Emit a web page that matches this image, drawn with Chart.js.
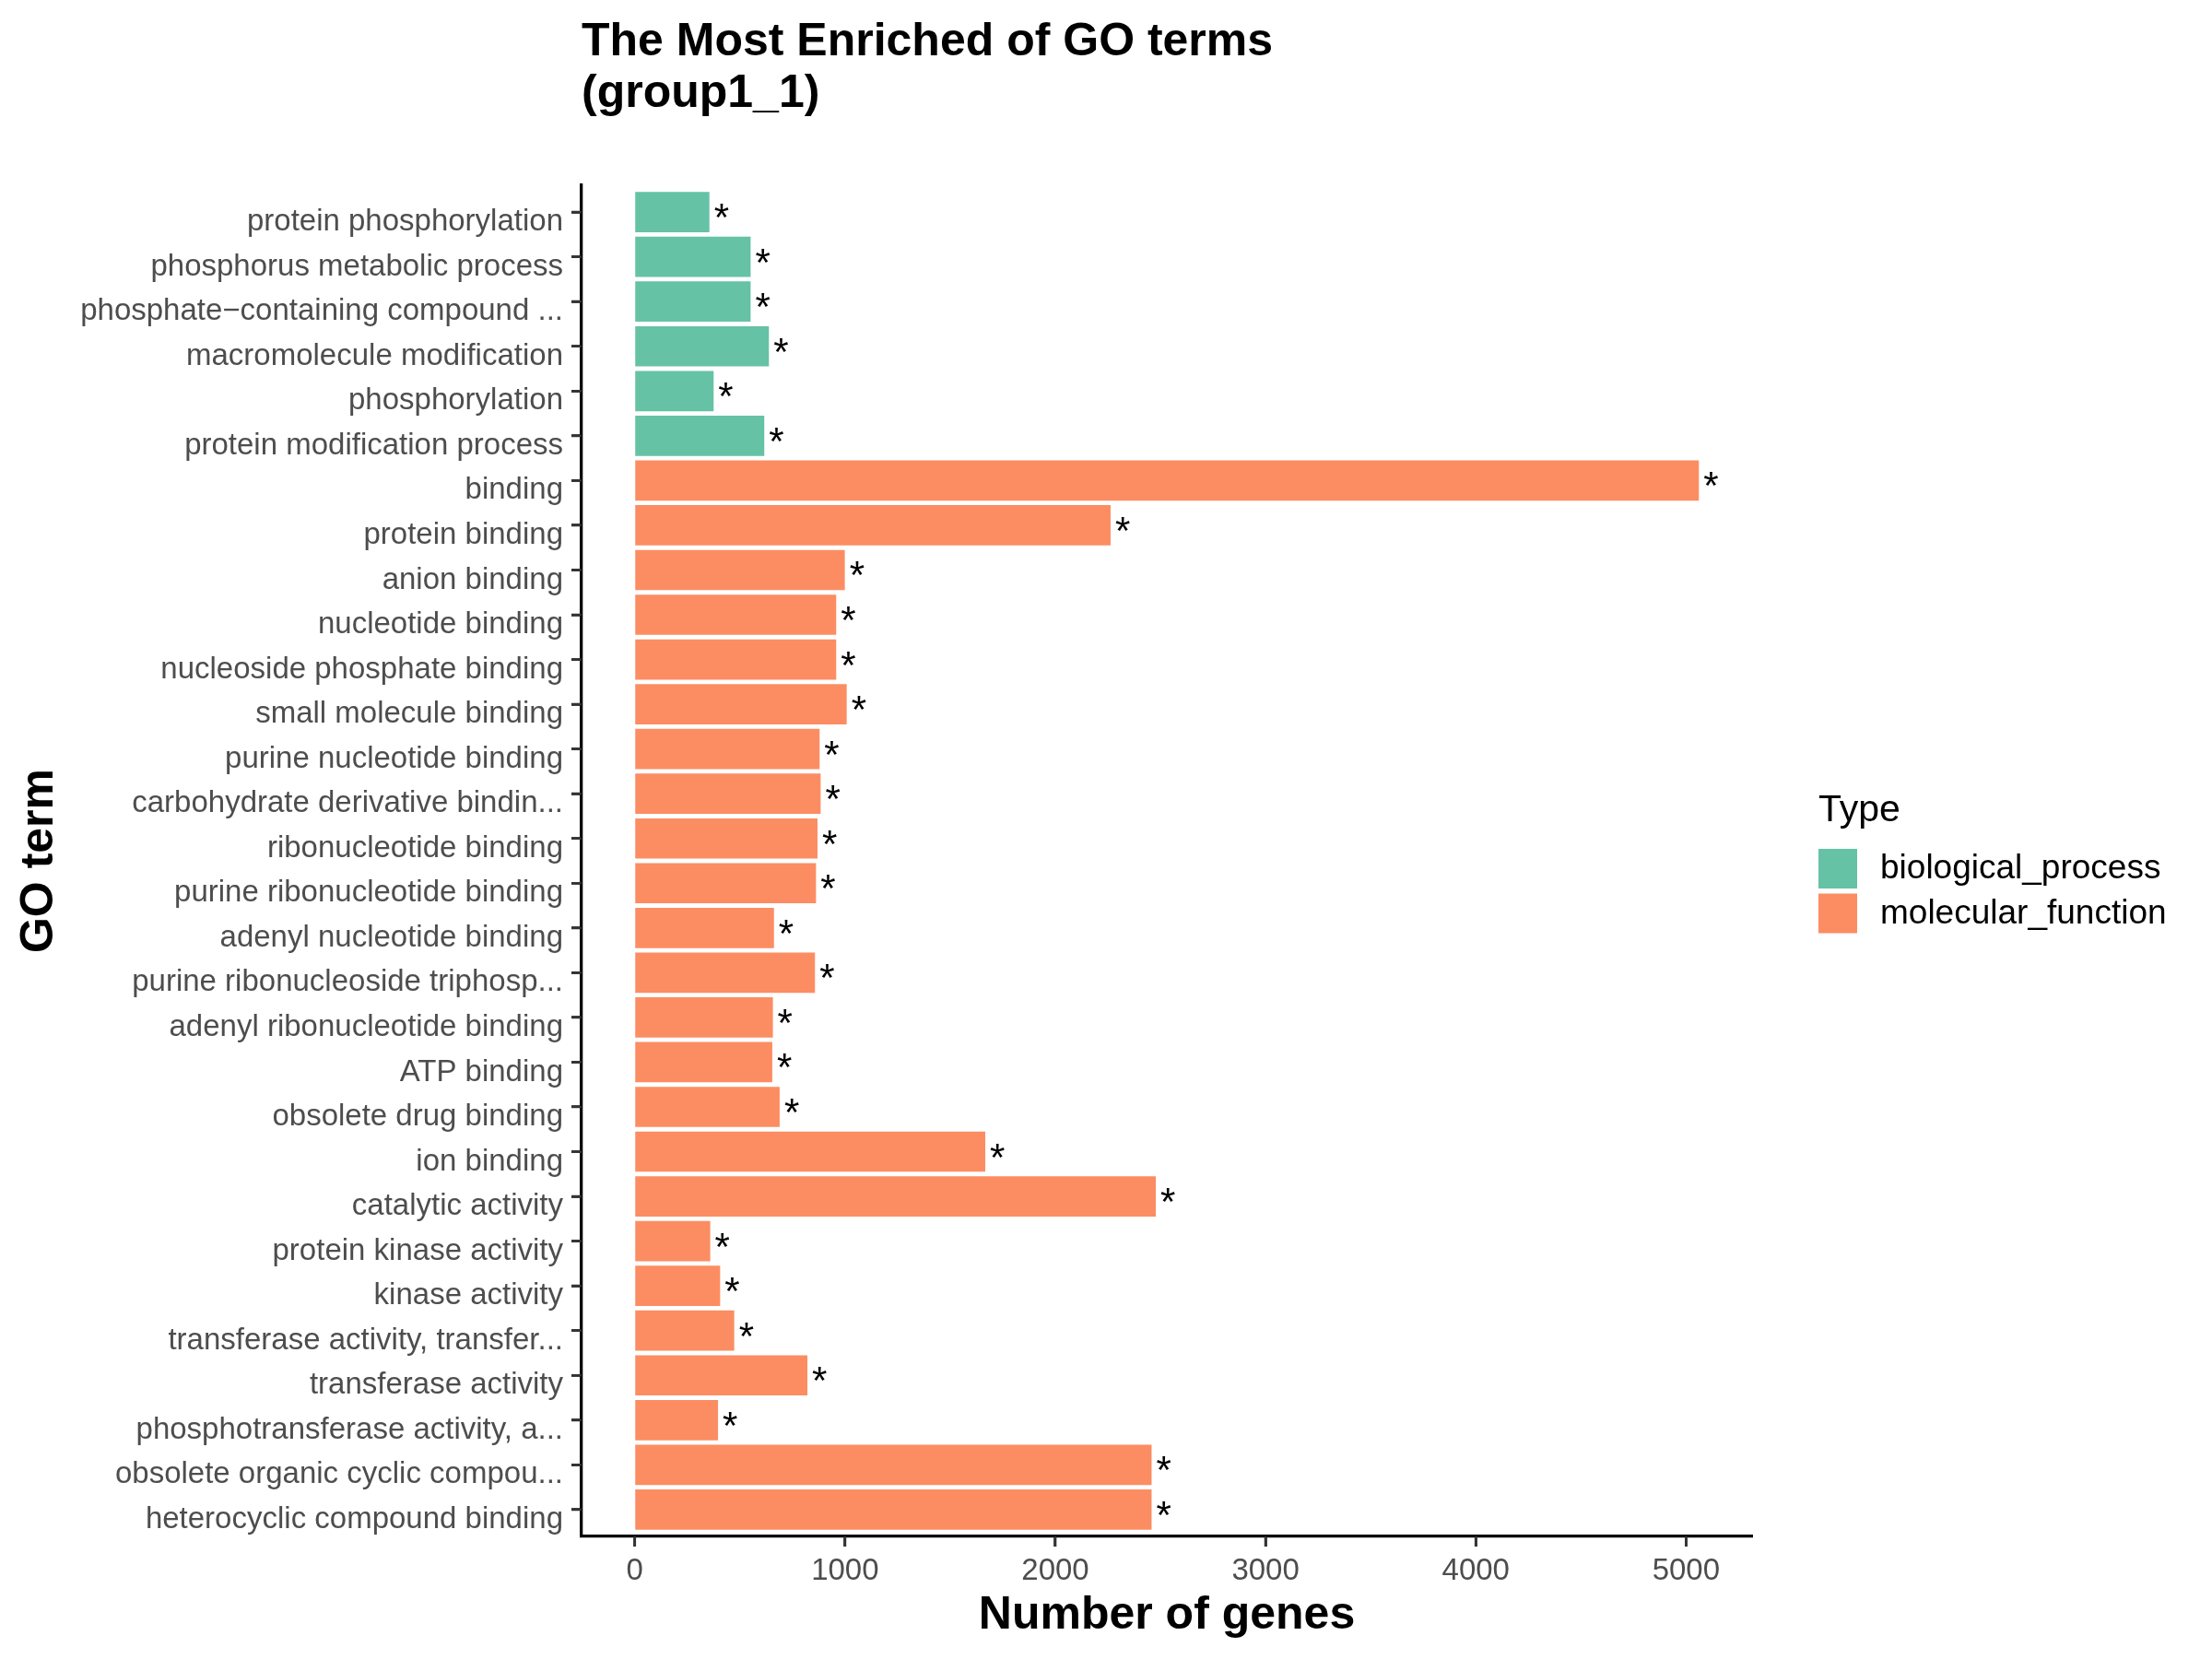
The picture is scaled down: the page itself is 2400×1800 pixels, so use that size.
<!DOCTYPE html>
<html>
<head>
<meta charset="utf-8">
<title>The Most Enriched of GO terms (group1_1)</title>
<script src="https://cdn.jsdelivr.net/npm/chart.js@4/dist/chart.umd.min.js"></script>
<style>
  body { margin: 0; background: #fff; }
  canvas { display: block; }
</style>
</head>
<body>
<canvas id="goChart" width="2400" height="1800"></canvas>
<script>
// GO terms, top to bottom as in the figure
const goTerms = [
    'protein phosphorylation',
    'phosphorus metabolic process',
    'phosphate\u2212containing compound ...',
    'macromolecule modification',
    'phosphorylation',
    'protein modification process',
    'binding',
    'protein binding',
    'anion binding',
    'nucleotide binding',
    'nucleoside phosphate binding',
    'small molecule binding',
    'purine nucleotide binding',
    'carbohydrate derivative bindin...',
    'ribonucleotide binding',
    'purine ribonucleotide binding',
    'adenyl nucleotide binding',
    'purine ribonucleoside triphosp...',
    'adenyl ribonucleotide binding',
    'ATP binding',
    'obsolete drug binding',
    'ion binding',
    'catalytic activity',
    'protein kinase activity',
    'kinase activity',
    'transferase activity, transfer...',
    'transferase activity',
    'phosphotransferase activity, a...',
    'obsolete organic cyclic compou...',
    'heterocyclic compound binding'
];

// Number of genes per term
const geneCounts = [355, 551, 551, 638, 375, 616, 5061, 2263, 999, 958, 958, 1008, 879, 884, 869,
    862, 662, 857, 657, 654, 689, 1667, 2478, 359, 406, 473, 821, 396, 2458, 2458];

const termTypes = [
    'biological_process', 'biological_process', 'biological_process',
    'biological_process', 'biological_process', 'biological_process',
    'molecular_function', 'molecular_function', 'molecular_function', 'molecular_function',
    'molecular_function', 'molecular_function', 'molecular_function', 'molecular_function',
    'molecular_function', 'molecular_function', 'molecular_function', 'molecular_function',
    'molecular_function', 'molecular_function', 'molecular_function', 'molecular_function',
    'molecular_function', 'molecular_function', 'molecular_function', 'molecular_function',
    'molecular_function', 'molecular_function', 'molecular_function', 'molecular_function'
];

// significance marks printed after each bar
const sigMarks = ['*', '*', '*', '*', '*', '*', '*', '*', '*', '*', '*', '*', '*', '*', '*',
    '*', '*', '*', '*', '*', '*', '*', '*', '*', '*', '*', '*', '*', '*', '*'];

const typeNames = ['biological_process', 'molecular_function'];
const typeColors = ['#66C2A5', '#FC8D62'];
const xTickValues = [0, 1000, 2000, 3000, 4000, 5000];

const FONT = '"Liberation Sans", Arial, Helvetica, sans-serif';
const TICK_LEN = 11;

// ggplot-like 5% expansion of the value axis
const maxCount = Math.max(...geneCounts);
const xPad = maxCount * 0.05;

const datasets = typeNames.map((t, k) => ({
    label: t,
    data: geneCounts.map((v, i) => termTypes[i] === t ? v : null),
    backgroundColor: typeColors[k],
    borderWidth: 0,
    barPercentage: 0.9,
    categoryPercentage: 1.0,
    grouped: false
}));

// title, legend, axis tick marks and the asterisks
const extrasPlugin = {
    id: 'extras',
    afterDatasetsDraw(chart) {
        const ctx = chart.ctx;
        ctx.save();
        ctx.fillStyle = '#000';
        ctx.textAlign = 'left';
        ctx.textBaseline = 'alphabetic';
        ctx.font = '42px ' + FONT;
        chart.data.datasets.forEach((ds, d) => {
            const meta = chart.getDatasetMeta(d);
            meta.data.forEach((bar, i) => {
                if (ds.data[i] === null) return;
                ctx.fillText(sigMarks[i], bar.x + 5, bar.y + 20);
            });
        });
        ctx.restore();
    },
    afterDraw(chart) {
        const ctx = chart.ctx;
        const area = chart.chartArea;
        const xs = chart.scales.x;
        const ys = chart.scales.y;
        ctx.save();

        // tick marks
        ctx.strokeStyle = '#333333';
        ctx.lineWidth = 2.7;
        ctx.beginPath();
        ys.ticks.forEach((t, i) => {
            const py = ys.getPixelForTick(i);
            ctx.moveTo(area.left - TICK_LEN, py);
            ctx.lineTo(area.left, py);
        });
        xs.ticks.forEach((t, i) => {
            const px = xs.getPixelForTick(i);
            ctx.moveTo(px, area.bottom);
            ctx.lineTo(px, area.bottom + TICK_LEN);
        });
        ctx.stroke();

        ctx.fillStyle = '#000';
        ctx.textAlign = 'left';
        ctx.textBaseline = 'alphabetic';
        ctx.font = 'bold 50px ' + FONT;
        ctx.fillText('The Most Enriched of GO terms', area.left, 60);
        ctx.fillText('(group1_1)', area.left, 116);

        // legend
        const lx = 1973;
        ctx.font = '41px ' + FONT;
        ctx.fillText('Type', lx, 891);
        ctx.font = '37px ' + FONT;
        ctx.textBaseline = 'middle';
        chart.data.datasets.forEach((ds, k) => {
            const top = 921 + k * 48.5;
            ctx.fillStyle = ds.backgroundColor;
            ctx.fillRect(lx, top, 42, 43);
            ctx.fillStyle = '#000';
            ctx.fillText(ds.label, 2040, top + 22);
        });
        ctx.restore();
    }
};

const ctx = document.getElementById('goChart').getContext('2d');
const goChart = new Chart(ctx, {
    type: 'bar',
    data: {
        labels: goTerms,
        datasets: datasets
    },
    options: {
        indexAxis: 'y',
        responsive: false,
        animation: false,
        devicePixelRatio: 1,
        layout: {
            padding: { top: 201, right: 499, bottom: 0, left: 0 }
        },
        plugins: {
            legend: { display: false },
            tooltip: { enabled: false }
        },
        scales: {
            x: {
                type: 'linear',
                min: -xPad,
                max: maxCount + xPad,
                afterBuildTicks: (s) => { s.ticks = xTickValues.map(v => ({ value: v })); },
                afterFit: (s) => { s.height = 133; },
                ticks: {
                    color: '#4D4D4D',
                    font: { family: FONT, size: 33 },
                    padding: 7,
                    maxRotation: 0,
                    autoSkip: false,
                    callback: (v) => String(v)
                },
                grid: {
                    drawOnChartArea: false,
                    drawTicks: true,
                    tickLength: TICK_LEN,
                    tickWidth: 2.7,
                    tickColor: '#333333'
                },
                border: { display: true, color: '#000', width: 3.3 },
                title: {
                    display: true,
                    text: 'Number of genes',
                    color: '#000',
                    font: { family: FONT, size: 50, weight: 'bold' },
                    padding: { top: 0, bottom: 17 }
                }
            },
            y: {
                type: 'category',
                offset: false,
                // ggplot discrete axis: 0.6 of a category added at each end
                afterBuildTicks: (s) => {
                    s._startValue = -0.6;
                    s._valueRange = goTerms.length - 1 + 1.2;
                },
                afterFit: (s) => { s.width = 631; },
                ticks: {
                    color: '#4D4D4D',
                    font: { family: FONT, size: 33 },
                    padding: 9,
                    labelOffset: 11,
                    autoSkip: false
                },
                grid: {
                    offset: false,
                    drawOnChartArea: false,
                    drawTicks: true,
                    tickLength: TICK_LEN,
                    tickWidth: 2.7,
                    tickColor: '#333333'
                },
                border: { display: true, color: '#000', width: 3.3 },
                title: {
                    display: true,
                    text: 'GO term',
                    color: '#000',
                    font: { family: FONT, size: 50, weight: 'bold' },
                    padding: { top: 13, bottom: 0 }
                }
            }
        }
    },
    plugins: [extrasPlugin]
});
</script>
</body>
</html>
